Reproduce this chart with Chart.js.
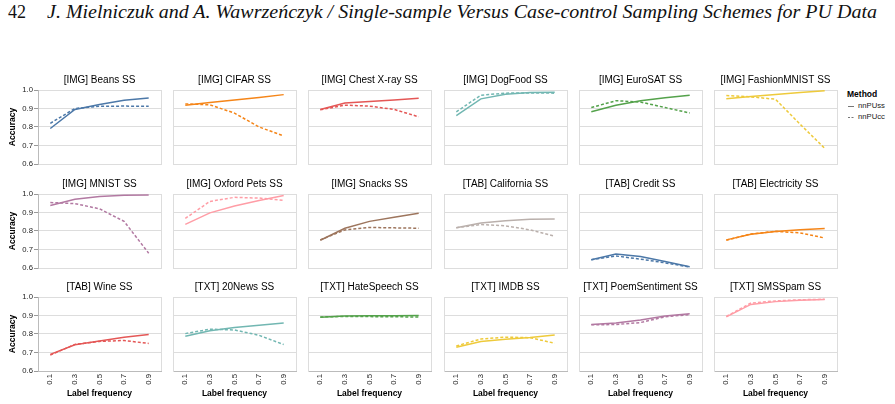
<!DOCTYPE html>
<html>
<head>
<meta charset="utf-8">
<script src="https://cdn.jsdelivr.net/npm/chart.js@4.4.0/dist/chart.umd.min.js"></script>
<style>
    html, body { margin: 0; padding: 0; background: #fff; }
    body { width: 895px; height: 404px; position: relative; overflow: hidden; font-family: "Liberation Sans", Arial, sans-serif; }
    .panel { position: absolute; }
    .panel canvas { display: block; }
    .hdr { position: absolute; top: 2px; font-family: "Liberation Serif", "Times New Roman", serif; font-size: 18px; line-height: 20px; color: #111; white-space: nowrap; transform-origin: left top; }
    .leg { position: absolute; white-space: nowrap; color: #222; }
    .leg-title { left: 847px; top: 88px; font-size: 8.5px; font-weight: bold; line-height: 12px; color: #000; }
    .leg-item { left: 848px; font-size: 7.7px; line-height: 10px; }
    .leg-item svg { vertical-align: middle; margin-right: 3px; }
</style>
</head>
<body>
<div class="hdr" style="left:8px">42</div>
<div class="hdr" id="runningHead" style="left:47px;font-style:italic">J. Mielniczuk and A. Wawrzeńczyk / Single-sample Versus Case-control Sampling Schemes for PU Data</div>

<div class="leg leg-title">Method</div>
<div class="leg leg-item" style="top:101px"><svg width="7" height="6"><line x1="0" y1="3.5" x2="6" y2="3.5" stroke="#777" stroke-width="1"/></svg>nnPUss</div>
<div class="leg leg-item" style="top:112px"><svg width="7" height="6"><line x1="0" y1="3.5" x2="7" y2="3.5" stroke="#777" stroke-width="1" stroke-dasharray="2,1.5"/></svg>nnPUcc</div>

<script>
// Data
const labelFreq = ['0.1', '0.3', '0.5', '0.7', '0.9'];
const yTicks = [0.6, 0.7, 0.8, 0.9, 1.0];
const panelTitles = [
    '[IMG] Beans SS', '[IMG] CIFAR SS', '[IMG] Chest X-ray SS', '[IMG] DogFood SS', '[IMG] EuroSAT SS', '[IMG] FashionMNIST SS',
    '[IMG] MNIST SS', '[IMG] Oxford Pets SS', '[IMG] Snacks SS', '[TAB] California SS', '[TAB] Credit SS', '[TAB] Electricity SS',
    '[TAB] Wine SS', '[TXT] 20News SS', '[TXT] HateSpeech SS', '[TXT] IMDB SS', '[TXT] PoemSentiment SS', '[TXT] SMSSpam SS'
];
const nnPUss = [
    [0.792, 0.895, 0.922, 0.945, 0.957],
    [0.917, 0.932, 0.946, 0.960, 0.975],
    [0.895, 0.930, 0.938, 0.946, 0.955],
    [0.862, 0.952, 0.977, 0.986, 0.988],
    [0.882, 0.918, 0.942, 0.958, 0.972],
    [0.953, 0.965, 0.976, 0.987, 0.996],
    [0.938, 0.972, 0.986, 0.993, 0.995],
    [0.836, 0.898, 0.935, 0.965, 0.992],
    [0.750, 0.815, 0.852, 0.874, 0.896],
    [0.818, 0.843, 0.856, 0.864, 0.865],
    [0.645, 0.676, 0.662, 0.635, 0.607],
    [0.752, 0.782, 0.797, 0.807, 0.814],
    [0.690, 0.742, 0.762, 0.783, 0.797],
    [0.788, 0.817, 0.835, 0.847, 0.859],
    [0.890, 0.897, 0.898, 0.899, 0.900],
    [0.728, 0.760, 0.771, 0.781, 0.795],
    [0.852, 0.860, 0.876, 0.897, 0.910],
    [0.893, 0.960, 0.975, 0.982, 0.986]
];
const nnPUcc = [
    [0.820, 0.900, 0.912, 0.913, 0.912],
    [0.925, 0.920, 0.875, 0.800, 0.752],
    [0.893, 0.918, 0.913, 0.895, 0.855],
    [0.882, 0.972, 0.983, 0.984, 0.983],
    [0.905, 0.942, 0.935, 0.905, 0.876],
    [0.970, 0.963, 0.950, 0.815, 0.685],
    [0.954, 0.948, 0.920, 0.852, 0.680],
    [0.868, 0.960, 0.982, 0.978, 0.966],
    [0.752, 0.806, 0.819, 0.817, 0.815],
    [0.818, 0.835, 0.828, 0.806, 0.772],
    [0.645, 0.665, 0.648, 0.628, 0.605],
    [0.750, 0.784, 0.798, 0.790, 0.762],
    [0.686, 0.744, 0.760, 0.765, 0.749],
    [0.802, 0.826, 0.822, 0.793, 0.743],
    [0.892, 0.895, 0.894, 0.893, 0.892],
    [0.735, 0.773, 0.783, 0.780, 0.750],
    [0.850, 0.851, 0.862, 0.893, 0.905],
    [0.895, 0.967, 0.979, 0.985, 0.988]
];

// Styles / layout
const palette = ['#4c78a8', '#f58518', '#e45756', '#72b7b2', '#54a24b', '#eeca3b', '#b279a2', '#ff9da6', '#9d755d', '#bab0ac'];
const colLeft = [38, 173, 308, 444, 579, 714];
const rowTop = [90, 194, 297];
const PLOT_W = 123, PLOT_H = 74, TITLE_H = 16;

Chart.defaults.font.family = '"Liberation Sans", Arial, sans-serif';

// fit running head to the page width
const head = document.getElementById('runningHead');
head.style.transform = `scaleX(${830 / head.getBoundingClientRect().width})`;

const frameBox = {
    id: 'frameBox',
    beforeDraw(chart) {
        const { ctx, chartArea: a } = chart;
        ctx.save();
        ctx.strokeStyle = '#ddd';
        ctx.lineWidth = 1;
        ctx.strokeRect(Math.round(a.left) + 0.5, Math.round(a.top) + 0.5, Math.round(a.right - a.left), Math.round(a.bottom - a.top));
        ctx.restore();
    }
};

panelTitles.forEach((title, i) => {
    const row = Math.floor(i / 6), col = i % 6;
    const first = col === 0, last = row === 2;
    const yW = first ? 38 : 0;
    const xH = last ? 30 : 0;
    const padB = last ? 0 : 6;
    const w = yW + PLOT_W + 1, h = TITLE_H + PLOT_H + xH + padB;
    const color = palette[i % palette.length];

    const div = document.createElement('div');
    div.className = 'panel';
    div.style.left = (colLeft[col] - yW) + 'px';
    div.style.top = (rowTop[row] - TITLE_H) + 'px';
    const canvas = document.createElement('canvas');
    canvas.width = w;
    canvas.height = h;
    div.appendChild(canvas);
    document.body.appendChild(div);

    new Chart(canvas, {
        type: 'line',
        data: {
            labels: labelFreq,
            datasets: [
                { label: 'nnPUss', data: nnPUss[i], borderColor: color, borderWidth: 1.5, pointRadius: 0, fill: false, tension: 0 },
                { label: 'nnPUcc', data: nnPUcc[i], borderColor: color, borderWidth: 1.5, borderDash: [3, 2], pointRadius: 0, fill: false, tension: 0 }
            ]
        },
        options: {
            responsive: false,
            animation: false,
            events: [],
            layout: { padding: { left: 0, right: 1, top: 0, bottom: padB } },
            plugins: {
                legend: { display: false },
                tooltip: { enabled: false },
                title: {
                    display: true, text: title, fullSize: false, color: '#000',
                    font: { size: 10, weight: 'normal', lineHeight: 1.2 },
                    padding: { top: 0, bottom: 4 }
                }
            },
            scales: {
                x: {
                    type: 'category', offset: true, display: last,
                    grid: { display: false, drawTicks: false },
                    border: { display: true, color: '#bbb' },
                    ticks: { autoSkip: false, minRotation: 90, maxRotation: 90, padding: 3, color: '#222', font: { size: 7.7 } },
                    title: { display: true, text: 'Label frequency', color: '#000', font: { size: 8.5, weight: 'bold' }, padding: { top: 0, bottom: 2 } },
                    afterFit: s => { s.height = xH; }
                },
                y: {
                    min: 0.6, max: 1.0,
                    afterBuildTicks: s => { s.ticks = yTicks.map(v => ({ value: v })); },
                    ticks: { display: first, padding: 1, color: '#222', font: { size: 7.7 }, callback: v => Number(v).toFixed(1) },
                    grid: { color: '#ddd', drawTicks: first, tickLength: 4, tickColor: '#999' },
                    border: { color: first ? '#bbb' : '#ddd' },
                    title: { display: first, text: 'Accuracy', color: '#000', font: { size: 8.5, weight: 'bold' }, padding: { top: 8, bottom: 0 } },
                    afterFit: s => { s.width = yW; }
                }
            }
        },
        plugins: [frameBox]
    });
});
</script>
</body>
</html>
